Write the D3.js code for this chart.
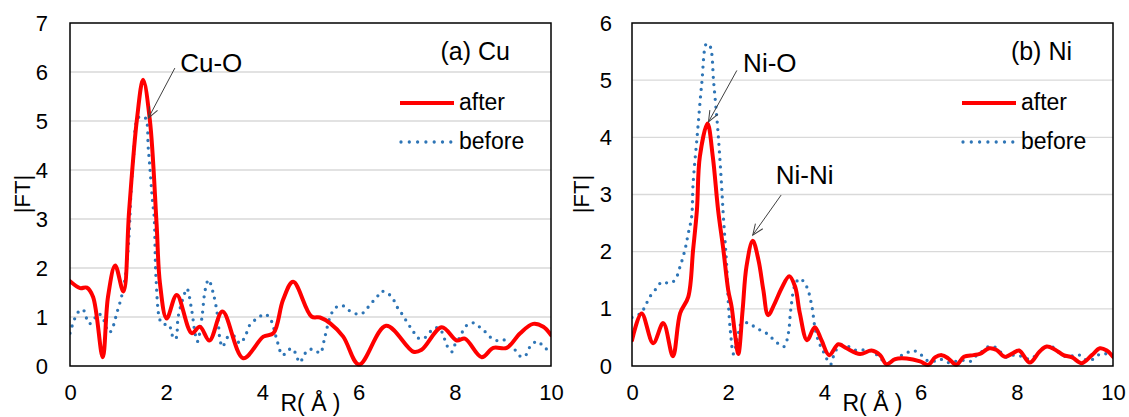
<!DOCTYPE html>
<html><head><meta charset="utf-8">
<script src="https://cdn.jsdelivr.net/npm/d3@7"></script>
<style>
body{margin:0;background:#fff}
svg{display:block}
text{font-family:"Liberation Sans",Arial,Helvetica,sans-serif;fill:#000}
</style>
</head><body>
<svg id="c" width="1129" height="417"></svg>
<script>
// ---------- data ----------
const xTicks = [0, 2, 4, 6, 8, 10];
const cuYTicks = [0, 1, 2, 3, 4, 5, 6, 7];
const niYTicks = [0, 1, 2, 3, 4, 5, 6];
const seriesNames = ["after", "before"];
const panelTitles = ["(a) Cu", "(b) Ni"];
const xTitle = "R( Å )";
const yTitle = "|FT|";

const cuAfterR  = [0,0.21,0.35,0.48,0.68,0.79,0.94,1.11,1.23,1.39,1.52,1.66,1.80,1.87,2.01,2.22,2.53,2.70,2.90,3.17,3.60,4.02,4.23,4.43,4.64,5.02,5.20,5.41,5.68,6.01,6.57,7.14,7.31,7.73,8.04,8.21,8.56,8.80,9.08,9.36,9.63,9.84,10];
const cuAfterFT = [1.73,1.59,1.60,1.41,0.18,1.41,2.05,1.52,3.18,5.02,5.84,5.02,2.90,1.69,0.97,1.45,0.67,0.80,0.52,1.11,0.16,0.60,0.67,1.35,1.72,1.01,0.99,0.87,0.60,0.03,0.82,0.29,0.33,0.79,0.52,0.56,0.18,0.37,0.37,0.67,0.86,0.80,0.63];

const cuBeforeR  = [0,0.10,0.21,0.28,0.33,0.40,0.51,0.59,0.69,0.74,0.82,0.90,0.97,1.07,1.16,1.23,1.26,1.32,1.42,1.56,1.63,1.72,1.75,1.79,1.87,1.94,2.05,2.11,2.15,2.20,2.25,2.36,2.43,2.53,2.60,2.65,2.74,2.81,2.88,2.98,3.07,3.12,3.17,3.29,3.43,3.53,3.64,3.74,3.92,4.05,4.16,4.23,4.31,4.42,4.54,4.64,4.70,4.78,4.85,4.95,5.09,5.20,5.30,5.41,5.51,5.65,5.79,5.93,6.05,6.15,6.25,6.38,6.46,6.58,6.71,6.79,6.87,6.96,7.07,7.14,7.22,7.35,7.47,7.57,7.68,7.76,7.83,7.94,8.00,8.09,8.16,8.26,8.39,8.51,8.63,8.75,8.87,9.01,9.13,9.25,9.36,9.46,9.53,9.62,9.74,9.84,9.97];
const cuBeforeFT = [0.67,0.97,1.14,1.14,1.01,0.86,0.97,1.07,0.97,0.82,0.68,0.82,1.07,1.41,1.89,2.71,3.39,4.27,5.07,5.07,4.41,3.32,3.05,1.76,0.94,0.85,0.85,0.70,0.56,0.56,1.01,1.41,1.58,1.14,0.67,0.50,0.97,1.55,1.76,1.48,1.01,0.53,0.39,0.60,0.60,0.46,0.60,0.84,0.99,1.06,0.97,0.79,0.50,0.22,0.33,0.35,0.22,0.07,0.19,0.33,0.33,0.26,0.60,1.01,1.18,1.24,1.14,1.07,1.06,1.14,1.27,1.40,1.52,1.50,1.38,1.22,1.11,0.97,0.80,0.70,0.58,0.56,0.68,0.77,0.77,0.63,0.43,0.29,0.43,0.56,0.70,0.84,0.88,0.80,0.70,0.58,0.52,0.54,0.43,0.33,0.20,0.20,0.34,0.46,0.50,0.39,0.31];

const niAfterR  = [0,0.20,0.44,0.65,0.85,1.00,1.17,1.27,1.35,1.41,1.57,1.68,1.79,1.90,2.00,2.07,2.14,2.21,2.30,2.38,2.51,2.63,2.73,2.83,2.97,3.11,3.27,3.39,3.49,3.64,3.80,3.94,4.10,4.29,4.46,4.74,4.98,5.16,5.29,5.47,5.71,5.99,6.16,6.30,6.44,6.58,6.74,6.90,7.10,7.23,7.43,7.58,7.75,7.93,8.05,8.27,8.47,8.62,8.79,8.97,9.15,9.35,9.56,9.73,9.87,10];
const niAfterFT = [0.45,0.92,0.40,0.75,0.17,0.92,1.21,2.03,2.73,3.66,4.24,3.66,2.73,2.03,1.33,1.04,0.57,0.21,0.98,1.74,2.19,1.85,1.33,0.89,1.10,1.36,1.57,1.39,0.92,0.45,0.68,0.45,0.19,0.38,0.31,0.21,0.27,0.19,0.03,0.12,0.13,0.08,0.02,0.15,0.19,0.13,0.02,0.16,0.19,0.21,0.31,0.28,0.16,0.23,0.27,0.06,0.25,0.34,0.29,0.19,0.15,0.05,0.19,0.31,0.27,0.16];

const niBeforeR  = [0,0.18,0.27,0.37,0.51,0.62,0.76,0.89,1.00,1.10,1.17,1.24,1.27,1.36,1.45,1.55,1.62,1.70,1.79,1.86,1.90,1.97,2.00,2.05,2.11,2.21,2.28,2.42,2.59,2.80,3.01,3.16,3.25,3.30,3.39,3.49,3.63,3.74,3.80,3.87,3.98,4.13,4.22,4.36,4.50,4.64,4.84,5.02,5.16,5.33,5.43,5.57,5.71,5.85,5.99,6.13,6.26,6.40,6.58,6.72,6.89,7.03,7.13,7.27,7.41,7.55,7.69,7.79,7.93,8.10,8.27,8.45,8.59,8.73,8.90,9.04,9.21,9.31,9.45,9.59,9.73,9.87,9.97];
const niBeforeFT = [0.85,0.92,1.04,1.21,1.36,1.47,1.45,1.50,1.74,2.03,2.32,2.61,3.19,4.07,4.94,5.64,5.60,4.94,4.07,3.19,2.61,1.74,1.15,0.57,0.21,0.57,0.75,0.75,0.66,0.57,0.41,0.34,0.57,0.98,1.42,1.53,1.39,1.04,0.69,0.45,0.25,0.03,0.25,0.37,0.34,0.28,0.28,0.25,0.13,0.05,0.09,0.17,0.23,0.27,0.21,0.10,0.08,0.12,0.06,0.08,0.10,0.08,0.16,0.25,0.34,0.33,0.22,0.15,0.19,0.17,0.12,0.23,0.33,0.34,0.22,0.16,0.19,0.19,0.10,0.12,0.21,0.21,0.16];

// annotations (data units): label, text position, arrow start, arrow end
const cuNotes = [{label:"Cu-O", tx:2.29, ty:6.0, x1:2.18, y1:6.08, x2:1.63, y2:5.06}];
const niNotes = [
  {label:"Ni-O",  tx:2.31, ty:5.14, x1:2.18, y1:5.17, x2:1.59, y2:4.27},
  {label:"Ni-Ni", tx:2.99, ty:3.19, x1:3.10, y1:2.99, x2:2.51, y2:2.29}
];

// ---------- drawing ----------
const svg = d3.select("#c");
const RED = "#ff0000", BLUE = "#2e75b6";

svg.append("defs").append("marker")
  .attr("id","arrow").attr("markerUnits","userSpaceOnUse")
  .attr("viewBox","-12 -6 14 12").attr("refX",0).attr("refY",0)
  .attr("markerWidth",14).attr("markerHeight",12).attr("orient","auto")
  .append("path").attr("d","M-11,-4.5 L0,0 L-11,4.5")
  .attr("fill","none").attr("stroke","#404040").attr("stroke-width",1);

const panels = [
  {id:"cu", left:70, right:551, top:23, bottom:366, yTicks:cuYTicks, yMax:7,
   after:[cuAfterR,cuAfterFT], before:[cuBeforeR,cuBeforeFT], notes:cuNotes,
   title:panelTitles[0], yTitleX:22, tickRight:48},
  {id:"ni", left:632, right:1113, top:23, bottom:366, yTicks:niYTicks, yMax:6,
   after:[niAfterR,niAfterFT], before:[niBeforeR,niBeforeFT], notes:niNotes,
   title:panelTitles[1], yTitleX:581, tickRight:612}
];

panels.forEach(p => {
  const x = d3.scaleLinear().domain([0,10]).range([p.left,p.right]);
  const y = d3.scaleLinear().domain([0,p.yMax]).range([p.bottom,p.top]);
  const g = svg.append("g");

  // gridlines
  g.append("g").selectAll("line").data(p.yTicks.filter(t=>t>0 && t<p.yMax)).join("line")
    .attr("x1",p.left).attr("x2",p.right).attr("y1",d=>y(d)).attr("y2",d=>y(d))
    .attr("stroke","#d9d9d9").attr("stroke-width",1.3);

  // clip
  g.append("clipPath").attr("id","clip-"+p.id).append("rect")
    .attr("x",p.left).attr("y",p.top).attr("width",p.right-p.left).attr("height",p.bottom-p.top+2);

  const line = d3.line().x(d=>x(d[0])).y(d=>y(d[1])).curve(d3.curveCatmullRom.alpha(0.5));
  const zip = s => s[0].map((r,i)=>[r,s[1][i]]);

  const lg = g.append("g").attr("clip-path","url(#clip-"+p.id+")");
  lg.append("path").datum(zip(p.before)).attr("d",line)
    .attr("fill","none").attr("stroke",BLUE).attr("stroke-width",3.3)
    .attr("stroke-linecap","round").attr("stroke-dasharray","0 7.5");
  lg.append("path").datum(zip(p.after)).attr("d",line)
    .attr("fill","none").attr("stroke",RED).attr("stroke-width",4)
    .attr("stroke-linejoin","round").attr("stroke-linecap","round");

  // frame
  g.append("rect").attr("x",p.left).attr("y",p.top)
    .attr("width",p.right-p.left).attr("height",p.bottom-p.top)
    .attr("fill","none").attr("stroke","#000").attr("stroke-width",1.5);

  // y axis tick labels
  const yAxis = d3.axisLeft(y).tickValues(p.yTicks).tickSize(0).tickPadding(p.left-p.tickRight).tickFormat(d3.format("d"));
  const ya = g.append("g").attr("transform",`translate(${p.left},0)`).call(yAxis);
  ya.select(".domain").remove();
  ya.selectAll("text").attr("font-size",22).attr("font-family",null).attr("fill","#000");

  const xAxis = d3.axisBottom(x).tickValues(xTicks).tickSize(0).tickPadding(18).tickFormat(d3.format("d"));
  const xa = g.append("g").attr("transform",`translate(0,${p.bottom})`).call(xAxis);
  xa.select(".domain").remove();
  xa.selectAll("text").attr("font-size",22).attr("font-family",null).attr("fill","#000");

  // axis titles
  g.append("text").attr("x",(p.left+p.right)/2).attr("y",411)
    .attr("text-anchor","middle").attr("font-size",23).text(xTitle);
  g.append("text").attr("transform",`translate(${p.yTitleX},194) rotate(-90)`)
    .attr("text-anchor","middle").attr("dominant-baseline","central")
    .attr("font-size",22).text(yTitle);

  // panel title
  g.append("text").attr("x",p.right-41).attr("y",60).attr("text-anchor","end")
    .attr("font-size",25).text(p.title);

  // legend
  const lx = p.right-151;
  g.append("line").attr("x1",lx).attr("x2",lx+54).attr("y1",103).attr("y2",103)
    .attr("stroke",RED).attr("stroke-width",4);
  g.append("text").attr("x",lx+59).attr("y",110).attr("font-size",23).text(seriesNames[0]);
  g.append("line").attr("x1",lx+1).attr("x2",lx+52).attr("y1",142).attr("y2",142)
    .attr("stroke",BLUE).attr("stroke-width",3.3).attr("stroke-linecap","round").attr("stroke-dasharray","0 8.3");
  g.append("text").attr("x",lx+59).attr("y",149).attr("font-size",23).text(seriesNames[1]);

  // annotations
  p.notes.forEach(n => {
    g.append("line").attr("x1",x(n.x1)).attr("y1",y(n.y1)).attr("x2",x(n.x2)).attr("y2",y(n.y2))
      .attr("stroke","#404040").attr("stroke-width",1).attr("marker-end","url(#arrow)");
    g.append("text").attr("x",x(n.tx)).attr("y",y(n.ty)).attr("font-size",26).text(n.label);
  });
});
</script>
</body></html>
